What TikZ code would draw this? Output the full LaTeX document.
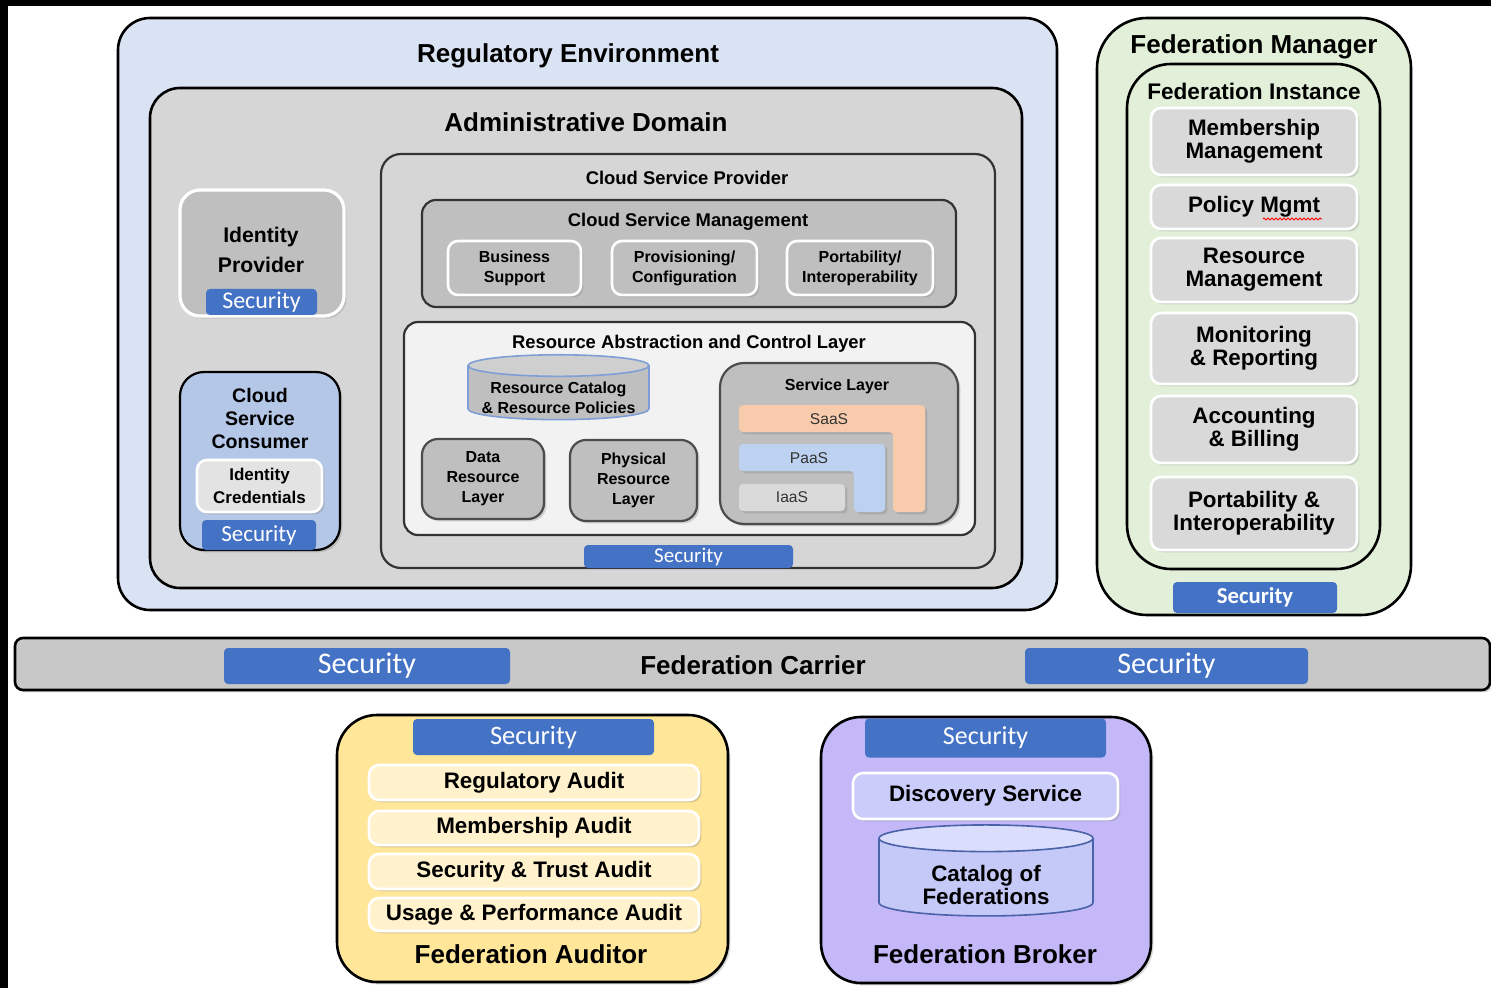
\documentclass[tikz,border=0pt]{standalone}
\usepackage{fontspec}
\setmainfont{Liberation Sans}
\newfontfamily\secfont{Carlito}
\usetikzlibrary{shapes.geometric,shadows,decorations.pathmorphing}

\definecolor{regblue}{HTML}{DAE3F3}
\definecolor{admgrey}{HTML}{D6D6D6}
\definecolor{midgrey}{HTML}{BFBFBF}
\definecolor{cscblue}{HTML}{B4C7E7}
\definecolor{credgrey}{HTML}{E3E3E3}
\definecolor{secblue}{HTML}{4472C4}
\definecolor{raclgrey}{HTML}{F2F2F2}
\definecolor{saas}{HTML}{F8CBAD}
\definecolor{paas}{HTML}{BDD1F0}
\definecolor{iaas}{HTML}{DADADA}
\definecolor{fmgreen}{HTML}{E2F0D9}
\definecolor{fmitem}{HTML}{D9D9D9}
\definecolor{carrier}{HTML}{C8C8C8}
\definecolor{auditor}{HTML}{FFE699}
\definecolor{auditem}{HTML}{FFF2CC}
\definecolor{broker}{HTML}{C4B8F9}
\definecolor{discov}{HTML}{CACCFA}
\definecolor{catbody}{HTML}{C5C9F8}
\definecolor{cattop}{HTML}{DADDFB}
\definecolor{catedge}{HTML}{4A62A8}
\definecolor{rcatedge}{HTML}{7F9ED6}
\definecolor{rcattop}{HTML}{CFCFCF}

\begin{document}
\begin{tikzpicture}[x=0.5pt, y=-0.5pt,
    sz/.style 2 args={minimum width=#1*0.5pt, minimum height=#2*0.5pt, inner sep=0pt},
    outer/.style={draw=black, line width=1.3pt, rounded corners=#1},
    panel/.style={draw=black!80, line width=1.1pt, rounded corners=#1},
    soft/.style={drop shadow={shadow xshift=1.2pt, shadow yshift=-1.2pt, opacity=0.3}},
    wbox/.style={draw=white, line width=1.3pt, rounded corners=5pt, soft, align=center},
    sec/.style={fill=secblue, text=white, rounded corners=2pt, font=\secfont\fontsize{#1}{#1}\selectfont},
    ttl/.style={font=\bfseries\fontsize{13}{15}\selectfont},
    mid/.style={font=\bfseries\fontsize{9.2}{11}\selectfont},
    sml/.style={font=\bfseries\fontsize{8}{10}\selectfont, align=center},
    itm/.style={font=\bfseries\fontsize{11.2}{11.5}\selectfont, align=center},
    tier/.style={font=\fontsize{7.8}{9}\selectfont, text=black!80}]

    \useasboundingbox (0,0) rectangle (1491,988);
    \fill[black] (0,0) rectangle (1491,6);
    \fill[black] (0,0) rectangle (8,988);

    % regulatory environment + administrative domain
    \node[outer=16pt, fill=regblue, sz={939}{592}] (reg) at (587.5,314) {};
    \node[ttl] (regT) at (568,56) {Regulatory Environment};
    \node[outer=15pt, fill=admgrey, sz={872}{500}] (adm) at (586,338) {};
    \node[ttl] (admT) at (586,122) {Administrative Domain};

    % identity provider
    \node[wbox, rounded corners=10pt, line width=1.6pt, fill=midgrey, sz={164}{126}] (idp) at (262,253) {};
    \node[font=\bfseries\fontsize{10.6}{15}\selectfont, align=center] (idpT) at (261,250) {Identity\\Provider};
    \node[sec=12, sz={111}{26}] (idpS) at (261.5,302) {Security};

    % cloud service consumer
    \node[outer=12pt, line width=1.1pt, fill=cscblue, sz={160}{178}, soft] (csc) at (260,461) {};
    \node[font=\bfseries\fontsize{9.8}{11.5}\selectfont, align=center] (cscT) at (260,418) {Cloud\\Service\\Consumer};
    \node[wbox, fill=credgrey, sz={125}{52}, font=\bfseries\fontsize{8.5}{11.5}\selectfont] (cred) at (259.5,486) {Identity\\Credentials};
    \node[sec=11.5, sz={114}{30}] (cscS) at (259,535) {Security};

    % cloud service provider
    \node[panel=10pt, fill=admgrey, sz={614}{414}] (csp) at (688,361) {};
    \node[mid] (cspT) at (687,178) {Cloud Service Provider};
    \node[panel=7pt, fill=midgrey, sz={534}{107}] (csm) at (689,253.5) {};
    \node[mid] (csmT) at (688,222) {Cloud Service Management};
    \node[wbox, fill=midgrey, sz={133}{54}, sml] (biz) at (514.5,268) {Business\\Support};
    \node[wbox, fill=midgrey, sz={145}{54}, sml] (prov) at (684.5,268) {Provisioning/\\Configuration};
    \node[wbox, fill=midgrey, sz={146}{54}, sml] (port) at (860,268) {Portability/\\Interoperability};

    % resource abstraction and control layer
    \node[panel=7pt, fill=raclgrey, sz={571}{213}] (racl) at (689.5,428.5) {};
    \node[mid] (raclT) at (689,344) {Resource Abstraction and Control Layer};
    \node[cylinder, shape border rotate=90, aspect=0.14, draw=rcatedge, line width=0.8pt,
          cylinder uses custom fill, cylinder body fill=midgrey, cylinder end fill=rcattop,
          sz={181}{60}, sml] (rcat) at (558.5,393) {\phantom{Resource Catalog}\\\phantom{\& Resource Policies}};
    \node[sml] (rcatT) at (558.5,398) {Resource Catalog\\\& Resource Policies};
    \node[panel=8pt, draw=black!70, fill=midgrey, sz={122}{80}, sml, soft] (drl) at (483,479) {Data\\Resource\\Layer};
    \node[panel=8pt, draw=black!70, fill=midgrey, sz={127}{81}, sml, soft] (prl) at (633.5,480.5) {Physical\\Resource\\Layer};

    % service layer
    \node[panel=12pt, draw=black!70, fill=midgrey, sz={238}{161}, soft] (svl) at (839,443.5) {};
    \node[sml] (svlT) at (837,386) {Service Layer};
    \fill[saas, rounded corners=2pt, soft] (739,405) -- (925,405) -- (925,512) -- (893,512) -- (893,432) -- (739,432) -- cycle;
    \node[tier] (saasT) at (829,419) {SaaS};
    \fill[paas, rounded corners=2pt, soft] (739,444) -- (885,444) -- (885,512) -- (854,512) -- (854,471) -- (739,471) -- cycle;
    \node[tier] (paasT) at (809,458) {PaaS};
    \node[tier, fill=iaas, rounded corners=2pt, sz={106}{27}, soft] (iaas) at (792,497.5) {IaaS};

    \node[sec=10.5, sz={209}{23}] (cspS) at (688.5,556.5) {Security};

    % federation manager
    \node[outer=25pt, fill=fmgreen, sz={314}{597}] (fm) at (1254,316.5) {};
    \node[ttl] (fmT) at (1254,47) {Federation Manager};
    \node[outer=22pt, fill=fmgreen, sz={253}{505}] (fi) at (1253.5,316.5) {};
    \node[font=\bfseries\fontsize{11.3}{13}\selectfont] (fiT) at (1254,91) {Federation Instance};
    \node[wbox, fill=fmitem, sz={206}{67}, itm] (memMgmt) at (1254,141.5) {Membership\\Management};
    \node[wbox, fill=fmitem, sz={206}{44}, itm] (polMgmt) at (1254,207) {Policy Mgmt};
    \draw[red, line width=0.4pt, decorate, decoration={zigzag, amplitude=0.5pt, segment length=2pt}] (1263,219) -- (1322,219);
    \node[wbox, fill=fmitem, sz={206}{64}, itm] (resMgmt) at (1254,270) {Resource\\Management};
    \node[wbox, fill=fmitem, sz={206}{71}, itm] (monRep) at (1254,348.5) {Monitoring\\\& Reporting};
    \node[wbox, fill=fmitem, sz={206}{67}, itm] (accBill) at (1254,429.5) {Accounting\\\& Billing};
    \node[wbox, fill=fmitem, sz={206}{73}, itm] (portInt) at (1254,513.5) {Portability \&\\Interoperability};
    \node[sec=11.4, sz={164}{31}, font=\secfont\bfseries\fontsize{11.4}{12}\selectfont] (fmS) at (1255,597.5) {Security};

    % federation carrier
    \node[draw=black, line width=1.3pt, rounded corners=4pt, fill=carrier, sz={1475}{52}, soft] (carr) at (752.5,664) {};
    \node[ttl] (carrT) at (753,665) {Federation Carrier};
    \node[sec=15, sz={286}{36}] (carrS1) at (367,666) {Security};
    \node[sec=15, sz={283}{36}] (carrS2) at (1166.5,666) {Security};

    % federation auditor
    \node[outer=20pt, fill=auditor, sz={391}{267}, soft] (aud) at (532.5,848.5) {};
    \node[sec=13.3, sz={241}{36}] (audS) at (533.5,737) {Security};
    \node[wbox, fill=auditem, sz={330}{35}, itm] (regAud) at (534,782.5) {Regulatory Audit};
    \node[wbox, fill=auditem, sz={330}{34}, itm] (memAud) at (534,828) {Membership Audit};
    \node[wbox, fill=auditem, sz={330}{35}, itm] (secAud) at (534,871.5) {Security \& Trust Audit};
    \node[wbox, fill=auditem, sz={330}{33}, itm] (useAud) at (534,914.5) {Usage \& Performance Audit};
    \node[ttl] (audT) at (531,954) {Federation Auditor};

    % federation broker
    \node[outer=20pt, fill=broker, sz={330}{266}, soft] (brk) at (986,850) {};
    \node[sec=13, sz={241}{39}] (brkS) at (985.5,738) {Security};
    \node[wbox, fill=discov, sz={265}{46}, itm] (disc) at (985.5,796) {Discovery Service};
    \node[cylinder, shape border rotate=90, aspect=0.21, draw=catedge, line width=0.8pt,
          cylinder uses custom fill, cylinder body fill=catbody, cylinder end fill=cattop,
          sz={214}{91}, itm] (catFed) at (986,877.5) {\phantom{Catalog of}\\\phantom{Federations}};
    \node[itm] (catFedT) at (986,885) {Catalog of\\Federations};
    \node[ttl] (brkT) at (985,954) {Federation Broker};
\end{tikzpicture}
\end{document}
